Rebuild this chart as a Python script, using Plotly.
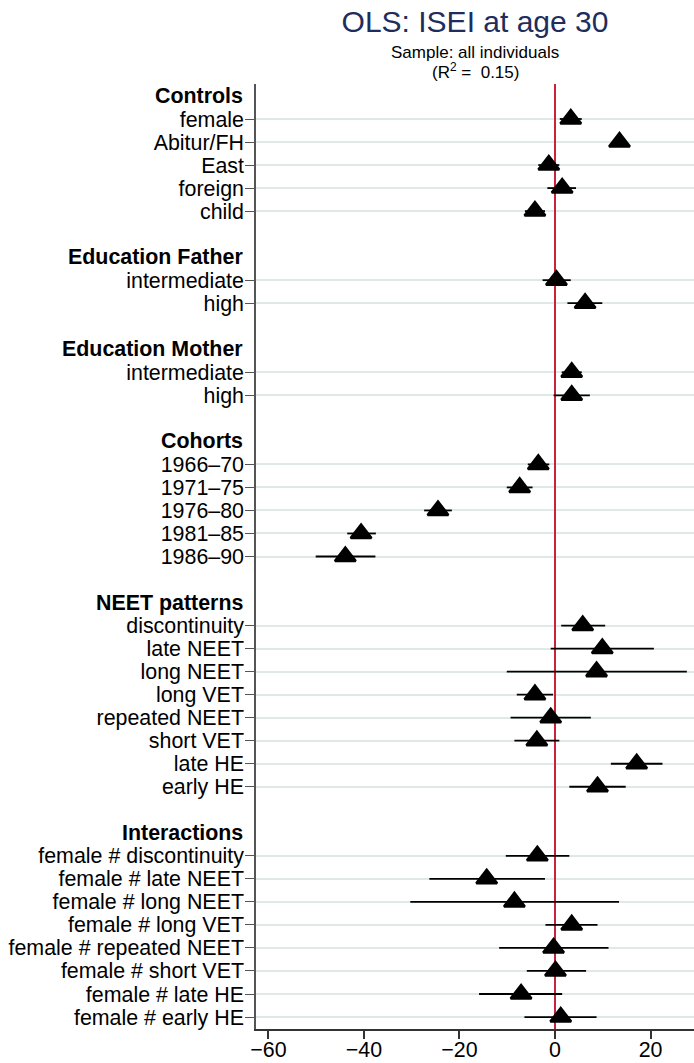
import plotly.graph_objects as go

# ---------------- data ----------------
headers = ["Controls", "Education Father", "Education Mother", "Cohorts",
           "NEET patterns", "Interactions"]
group_sizes = [5, 2, 2, 5, 8, 8]

labels = [
    "female", "Abitur/FH", "East", "foreign", "child",
    "intermediate", "high",
    "intermediate", "high",
    "1966\u201370", "1971\u201375", "1976\u201380", "1981\u201385", "1986\u201390",
    "discontinuity", "late NEET", "long NEET", "long VET", "repeated NEET",
    "short VET", "late HE", "early HE",
    "female # discontinuity", "female # late NEET", "female # long NEET",
    "female # long VET", "female # repeated NEET", "female # short VET",
    "female # late HE", "female # early HE",
]
coef = [
    3.3, 13.5, -1.3, 1.5, -4.2,
    0.3, 6.3,
    3.5, 3.5,
    -3.5, -7.4, -24.5, -40.6, -43.9,
    5.8, 9.9, 8.7, -4.2, -0.9, -3.8, 17.1, 8.9,
    -3.7, -14.3, -8.5, 3.5, -0.3, 0.1, -7.1, 1.2,
]
ci_low = [
    1.0, 12.0, -3.5, -1.6, -6.3,
    -2.6, 2.6,
    1.4, -0.3,
    -5.7, -10.1, -27.4, -43.5, -50.1,
    1.3, -0.9, -10.1, -8.0, -9.3, -8.5, 11.7, 3.0,
    -10.3, -26.3, -30.3, -2.0, -11.7, -5.9, -15.9, -6.4,
]
ci_high = [
    5.6, 15.0, 0.9, 4.4, -2.1,
    3.3, 9.9,
    5.6, 7.3,
    -1.2, -4.7, -21.6, -37.5, -37.6,
    10.5, 20.7, 27.6, -0.4, 7.5, 0.9, 22.5, 14.8,
    3.0, -2.1, 13.4, 8.9, 11.2, 6.5, 1.5, 8.7,
]
x_ticks = [-60, -40, -20, 0, 20]
x_tick_labels = ["\u221260", "\u221240", "\u221220", "0", "20"]

# ---------------- row positions ----------------
header_rows = []
coef_rows = []
row = 0
for g, n in enumerate(group_sizes):
    header_rows.append(row)
    row += 1
    for _ in range(n):
        coef_rows.append(row)
        row += 1
    row += 1  # blank row between groups
last_row = coef_rows[-1]

err_plus = [h - c for h, c in zip(ci_high, coef)]
err_minus = [c - l for c, l in zip(coef, ci_low)]

FONT = "Liberation Sans, Arial, Helvetica, sans-serif"
W, H = 694, 1063
T, B = 84, 34
PLOT_H = H - T - B
LABEL_SIZE = 21.4


def paper_y(px):
    return (H - B - px) / PLOT_H


fig = go.Figure()
fig.add_trace(go.Scatter(
    x=coef, y=coef_rows, mode="markers",
    marker=dict(symbol="triangle-up", size=18, color="black",
                line=dict(color="black", width=2.5)),
    error_x=dict(type="data", symmetric=False, array=err_plus,
                 arrayminus=err_minus, color="black", thickness=1.8, width=0),
    showlegend=False, hoverinfo="skip",
))

annotations = []
for h, r in zip(headers, header_rows):
    annotations.append(dict(
        text="<b>%s</b>" % h, x=0, xref="paper", y=r, yref="y",
        xanchor="right", yanchor="middle", xshift=-11, showarrow=False,
        font=dict(family=FONT, size=LABEL_SIZE, color="black"),
    ))
annotations.append(dict(
    text="Sample: all individuals", x=0.5, xref="paper", y=paper_y(53),
    yref="paper", xanchor="center", yanchor="middle", showarrow=False,
    font=dict(family=FONT, size=17, color="black"),
))
annotations.append(dict(
    text="(R<sup>2</sup> =\u00a0 0.15)", x=0.5, xref="paper", y=paper_y(71),
    yref="paper", xanchor="center", yanchor="middle", showarrow=False,
    font=dict(family=FONT, size=17, color="black"),
))

fig.update_layout(
    width=W, height=H,
    margin=dict(l=256, r=0, t=T, b=B, autoexpand=False),
    paper_bgcolor="white", plot_bgcolor="white",
    title=dict(text="OLS: ISEI at age 30", x=0.5, xref="paper",
               y=1 - 21 / H, yref="container", xanchor="center",
               yanchor="middle",
               font=dict(family=FONT, size=30, color="#1e2d5c")),
    annotations=annotations,
    xaxis=dict(
        range=[-62.6, 29.1], tickvals=x_ticks, ticktext=x_tick_labels,
        showgrid=False, zeroline=True, zerolinecolor="#c8233a",
        zerolinewidth=2, showline=True, linecolor="#333333", linewidth=1.5,
        ticks="outside", ticklen=8, tickwidth=1.5, tickcolor="#333333",
        ticklabelstandoff=-7,
        tickfont=dict(family=FONT, size=LABEL_SIZE, color="black"),
        automargin=False,
    ),
    yaxis=dict(
        range=[last_row + 0.52, -0.52], tickvals=coef_rows, ticktext=labels,
        showgrid=True, gridcolor="#dfe9e8", gridwidth=1.5,
        zeroline=False, showline=True, linecolor="#555555", linewidth=1.5,
        ticks="outside", ticklen=9, tickwidth=1.2, tickcolor="#555555",
        ticklabelstandoff=-3,
        tickfont=dict(family=FONT, size=LABEL_SIZE, color="black"),
        automargin=False,
    ),
)

fig.write_html(
    "out.html",
    config={"displayModeBar": False},
    post_script="document.body.style.margin='0';document.body.style.padding='0';",
)
